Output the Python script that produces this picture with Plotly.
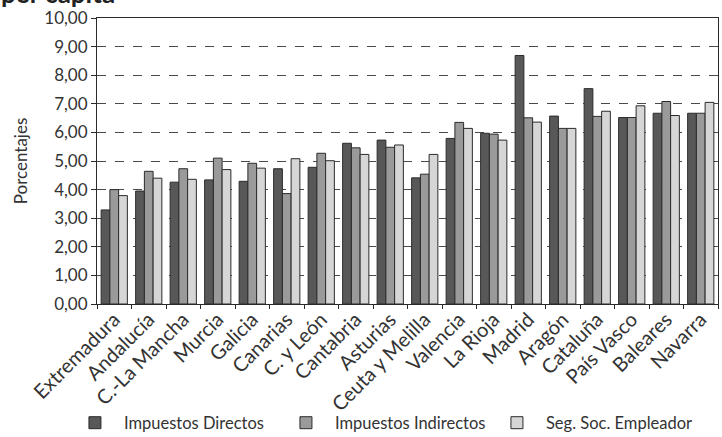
import plotly.graph_objects as go

regiones = ["Extremadura", "Andalucía", "C.-La Mancha", "Murcia", "Galicia", "Canarias",
            "C. y León", "Cantabria", "Asturias", "Ceuta y Melilla", "Valencia", "La Rioja",
            "Madrid", "Aragón", "Cataluña", "País Vasco", "Baleares", "Navarra"]

directos = [3.29, 3.95, 4.26, 4.34, 4.29, 4.73, 4.78, 5.62, 5.73, 4.41, 5.79, 5.97,
            8.69, 6.57, 7.53, 6.52, 6.67, 6.67]
indirectos = [4.00, 4.64, 4.73, 5.10, 4.92, 3.86, 5.27, 5.46, 5.48, 4.54, 6.35, 5.94,
              6.51, 6.14, 6.56, 6.52, 7.08, 6.67]
seg_social = [3.79, 4.40, 4.36, 4.70, 4.75, 5.08, 5.01, 5.23, 5.56, 5.23, 6.14, 5.73,
              6.36, 6.14, 6.74, 6.93, 6.59, 7.05]

y_ticks = [0, 1, 2, 3, 4, 5, 6, 7, 8, 9, 10]
y_labels = ["0,00", "1,00", "2,00", "3,00", "4,00", "5,00", "6,00", "7,00", "8,00", "9,00", "10,00"]

FONT = "Lato"
INK = "#333333"
EDGE = "#2b2b2b"

series = [
    ("Impuestos Directos", directos, "#585858"),
    ("Impuestos Indirectos", indirectos, "#9a9a9a"),
    ("Seg. Soc. Empleador", seg_social, "#d6d6d6"),
]

fig = go.Figure()
for name, vals, color in series:
    fig.add_trace(go.Bar(
        x=regiones, y=vals, name=name,
        marker=dict(color=color, line=dict(color=EDGE, width=1)),
    ))

fig.update_layout(
    width=722, height=437,
    margin=dict(l=97, r=4, t=17.5, b=132.5, autoexpand=False),
    paper_bgcolor="white", plot_bgcolor="white",
    barmode="group", bargap=0.24, bargroupgap=0,
    font=dict(family=FONT, size=16, color=INK),
    showlegend=True,
    legend=dict(
        orientation="h", xref="paper", yref="paper",
        x=-0.05, y=-0.416, xanchor="left", yanchor="middle",
        entrywidth=148, entrywidthmode="pixels",
        bgcolor="rgba(0,0,0,0)",
        font=dict(family=FONT, size=16.5, color=INK),
        itemwidth=48, traceorder="normal",
    ),
    annotations=[dict(
        text="<b>per cápita</b>", xref="paper", yref="paper",
        x=-0.158, y=1.026, xanchor="left", yanchor="bottom",
        showarrow=False, font=dict(family=FONT, size=26, color="#222222"),
    )],
)

fig.update_xaxes(
    tickangle=-45, tickfont=dict(family=FONT, size=20, color=INK),
    showline=True, linecolor=EDGE, linewidth=1, mirror=True,
    ticks="outside", ticklen=4, tickcolor=EDGE, tickson="boundaries",
    ticklabelstandoff=-5,
    showgrid=False, automargin=False,
)
fig.update_yaxes(
    range=[0, 10], tickvals=y_ticks, ticktext=y_labels,
    tickfont=dict(family=FONT, size=17, color=INK),
    showline=True, linecolor=EDGE, linewidth=1, mirror=True,
    ticks="outside", ticklen=5, tickcolor=EDGE,
    showgrid=True, gridcolor="#4a4a4a", gridwidth=1, griddash="dash",
    title=dict(text="Porcentajes", font=dict(family=FONT, size=17, color=INK), standoff=12),
    zeroline=False, automargin=False,
)

fig.write_html("out.html")
